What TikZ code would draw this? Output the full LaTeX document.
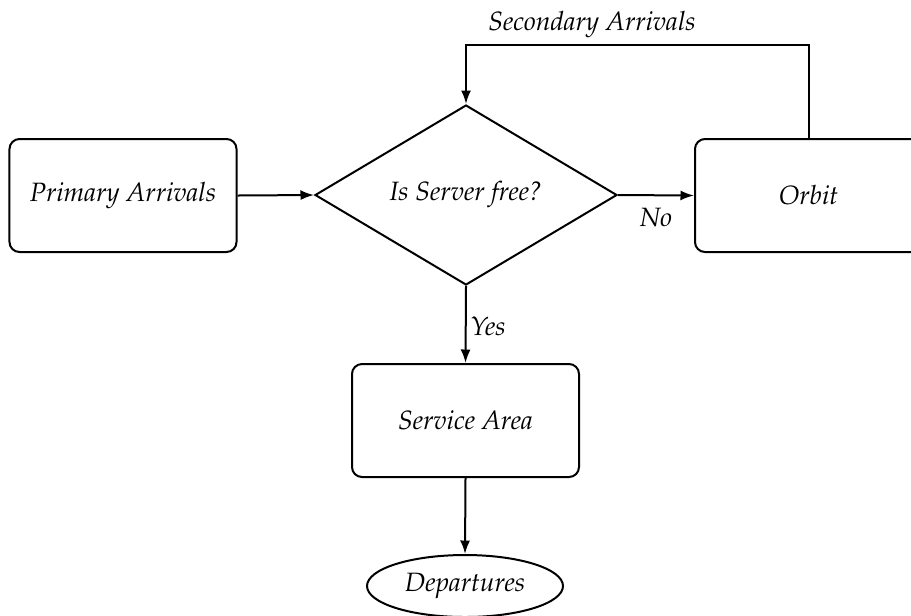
\documentclass[tikz,border=0pt]{standalone}
\usepackage[T1]{fontenc}
\usepackage{mathpazo}
\usetikzlibrary{shapes.geometric,arrows.meta}

\newcommand{\flowfont}{\fontsize{10.6}{13}\selectfont\itshape}

\tikzset{
  flow/.style={line width=0.8pt, draw=black},
  procbox/.style={flow, rectangle, rounded corners=4pt, minimum width=90.8pt,
    minimum height=45.2pt, inner sep=0pt, font=\flowfont},
  decision/.style={flow, diamond, aspect=1.68, minimum width=120.8pt,
    minimum height=72pt, inner sep=0pt, font=\flowfont},
  terminal/.style={flow, ellipse, minimum width=78.4pt, minimum height=24.8pt,
    inner sep=0pt, font=\flowfont},
  conn/.style={flow, -{Latex[length=5.4pt,width=4pt]}},
  lbl/.style={font=\flowfont, inner sep=0pt}
}

\begin{document}
\begin{tikzpicture}[x=0.4pt, y=-0.4pt]
  \useasboundingbox (0,0) rectangle (911,615);

  % main flow
  \node[procbox]  (primary) at (123,195.5) {Primary Arrivals};
  \node[decision] (free)    at (466,195)   {Is Server free?};
  \node[procbox]  (orbit)   at (808.5,195.5) {Orbit};
  \node[procbox]  (service) at (465.5,420.5) {Service Area};
  \node[terminal] (depart)  at (465,586)   {Departures};

  % retry loop corners
  \coordinate (loopR) at (808.5,45);
  \coordinate (loopL) at (466,45);

  \draw[conn] (primary.east) -- (free.west);
  \draw[conn] (free.east) -- (orbit.west);
  \draw[conn] (free.south) -- (service.north);
  \draw[conn] (service.south) -- (depart.north);
  \draw[conn] (orbit.north) -- (loopR) -- (loopL) -- (free.north);

  % branch labels
  \node[lbl] (lno)  at (656,217) {No};
  \node[lbl] (lyes) at (488,326) {Yes};
  \node[lbl] (lsec) at (592,25)  {Secondary Arrivals};
\end{tikzpicture}
\end{document}
